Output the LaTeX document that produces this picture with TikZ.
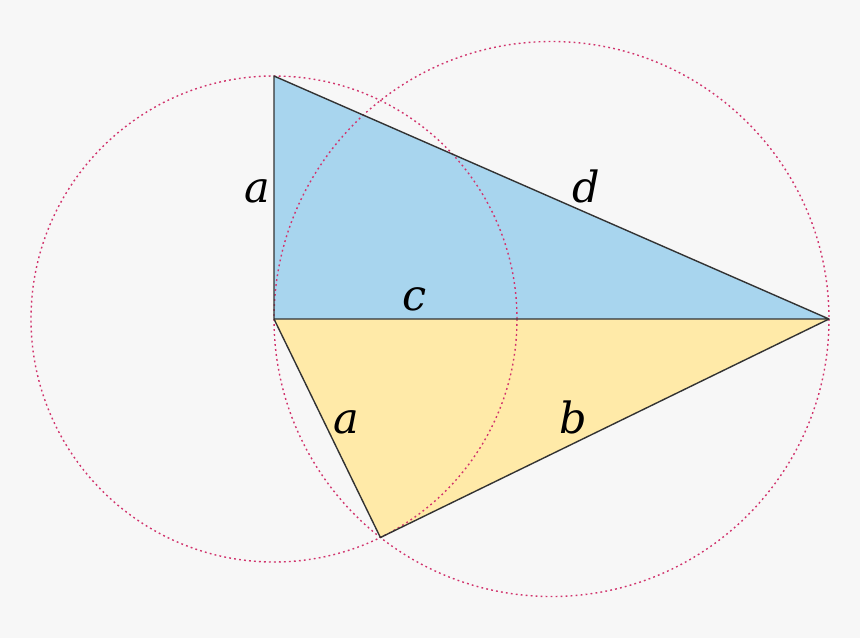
\documentclass[tikz,border=0pt]{standalone}
\usepackage{fontspec}
\newfontfamily\labfont{DejaVu Serif}
\definecolor{bg}{HTML}{F7F7F7}
\definecolor{bluefill}{HTML}{A8D5EE}
\definecolor{yellowfill}{HTML}{FFEAA8}
\definecolor{circ}{HTML}{D1336C}
\definecolor{edge}{HTML}{333333}
\tikzset{
  circdot/.style={draw=circ, line width=1.4pt, dash pattern=on 1.8pt off 3.2pt},
  edgeline/.style={draw=edge, line width=1.4pt, line join=round},
  lab/.style={font=\labfont\itshape\fontsize{43}{43}\selectfont, inner sep=0pt, anchor=base}
}
\begin{document}
\begin{tikzpicture}[x=1pt,y=-1pt]
\useasboundingbox (0,0) rectangle (860,638);
\fill[bg] (0,0) rectangle (860,638);
\coordinate (O) at (274,319);
\coordinate (A) at (274,76);
\coordinate (R) at (829,319);
\coordinate (B) at (380.4,537.5);
\coordinate (M) at (551.5,319);
\fill[bluefill] (O) -- (A) -- (R) -- cycle;
\fill[yellowfill] (O) -- (R) -- (B) -- cycle;
\draw[circdot] (O) circle[radius=243];
\draw[circdot] (M) circle[radius=277.5];
\draw[edgeline] (A) -- (O) -- (R) -- cycle;
\draw[edgeline] (O) -- (B) -- (R);
\node[lab] (la) at (257.5,202) {a};
\node[lab] (ld) at (586.5,202) {d};
\node[lab] (lc) at (415,310) {c};
\node[lab] (la2) at (346.5,433) {a};
\node[lab] (lb) at (573.5,433) {b};
\end{tikzpicture}
\end{document}
